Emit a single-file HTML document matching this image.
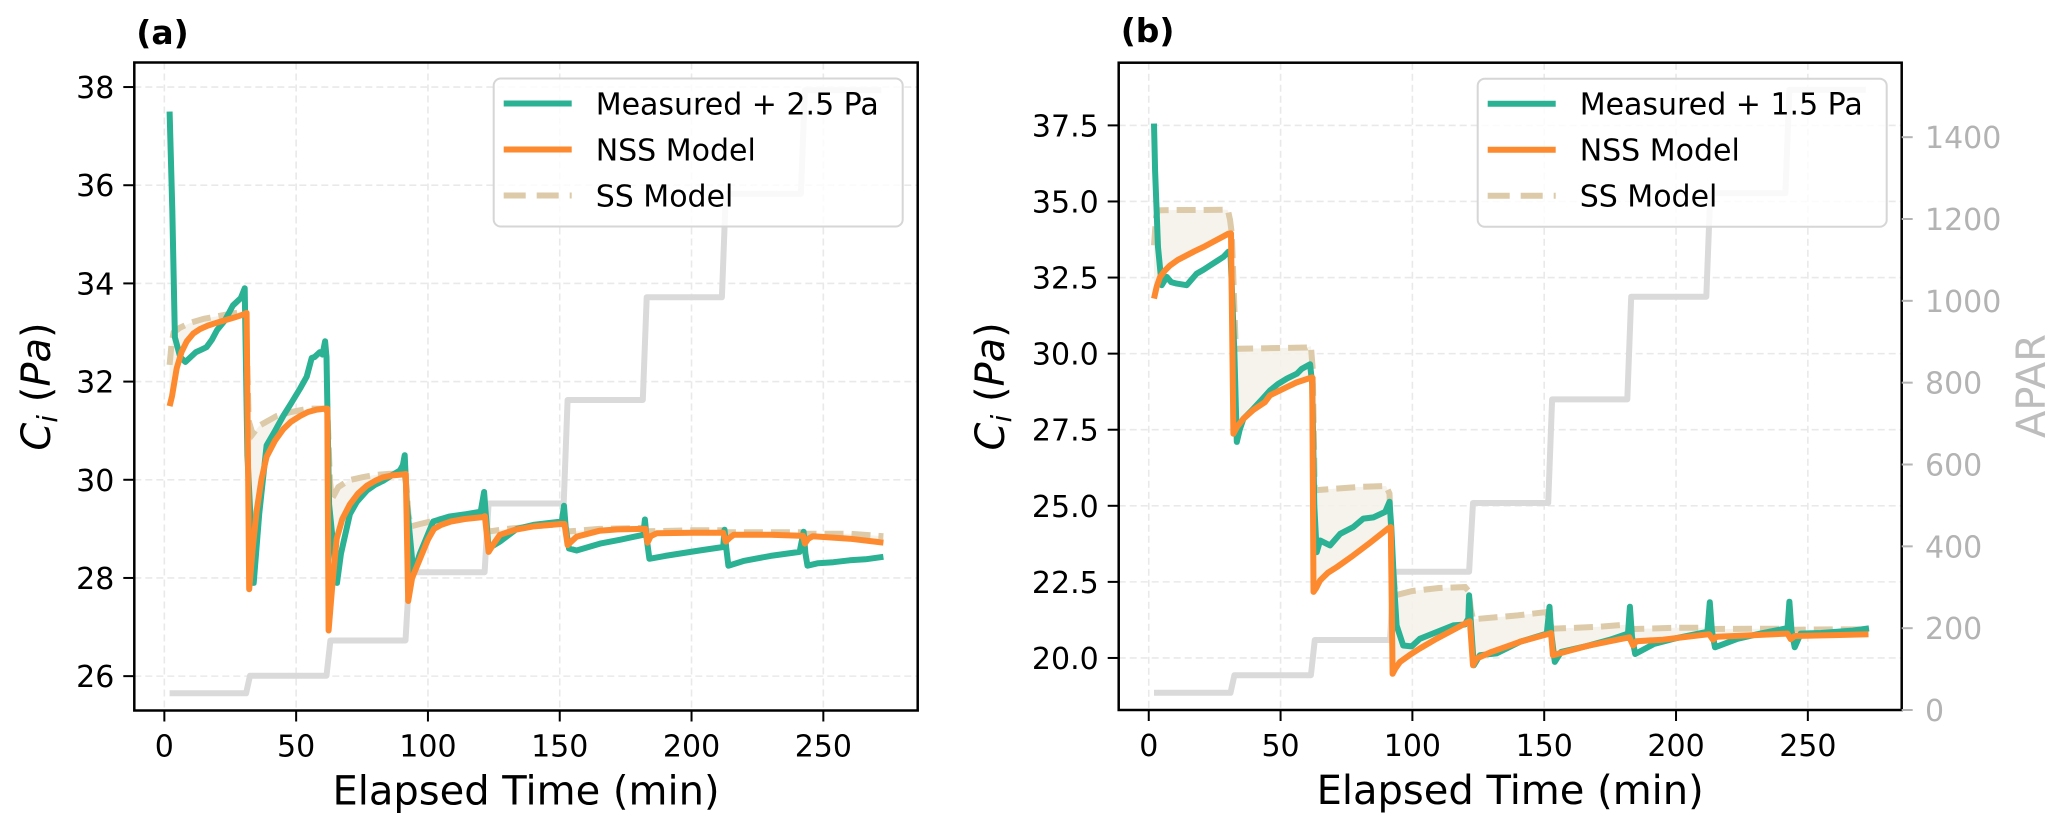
<!DOCTYPE html>
<html>
<head>
<meta charset="utf-8">
<style>
  html, body { margin: 0; padding: 0; background: #ffffff; }
  svg { display: block; }
  text { font-family: "DejaVu Sans", "Liberation Sans", sans-serif; }
</style>
</head>
<body>
<svg id="fig" width="2067" height="833" viewBox="0 0 2067 833" xmlns="http://www.w3.org/2000/svg">
  <rect x="0" y="0" width="2067" height="833" fill="#ffffff"/>
  <g id="panelA"></g>
  <g id="panelB"></g>
</svg>
<script>
// ---------- shared data ----------
const xTicks = [0, 50, 100, 150, 200, 250];
const aparT = [2, 31, 32.5, 61.5, 63, 91.5, 93, 121.5, 123, 151.5, 153, 181.5, 183, 211.5, 213, 241.5, 243, 272];
const aparV = [42, 42, 85, 85, 171, 171, 338, 338, 506, 506, 759, 759, 1010, 1010, 1263, 1263, 1516, 1516];
const aparTicks = [0, 200, 400, 600, 800, 1000, 1200, 1400];

// ---------- panel (a) data ----------
const aYTicks = [26, 28, 30, 32, 34, 36, 38];
const aMeasT = [2,3,4,6,8,10,12,14,16,18,20,23,26,29,30.5,31.5,33.9,36,38.8,42,45.1,48,51.5,54,55.9,57,59,60,61,61.5,62.5,65.5,67,70.4,73,76.8,80,83,86,89.4,90.5,91.2,92,94.5,97,102,108,114.7,120,121.3,121.8,123,127.3,133.7,140,146,150.8,151.6,152.3,153.5,156.4,165.3,173,181.7,182.3,183,184,190,203,212,212.5,213.2,214,220,230,241,242.5,243.2,244,248,253.8,260,266,272.8];
const aMeasV = [37.5,35.5,32.9,32.5,32.4,32.5,32.6,32.65,32.7,32.85,33.05,33.25,33.55,33.7,33.9,30.5,27.9,29.3,30.7,31.0,31.3,31.55,31.86,32.1,32.48,32.5,32.6,32.55,32.82,32.5,29.5,27.9,28.5,29.3,29.55,29.78,29.9,29.98,30.08,30.19,30.3,30.5,29.5,28.1,28.5,29.15,29.25,29.3,29.35,29.75,29.4,28.6,28.74,29.0,29.08,29.12,29.15,29.47,29.0,28.6,28.56,28.7,28.78,28.88,29.19,28.8,28.39,28.45,28.56,28.63,28.98,28.6,28.25,28.35,28.45,28.53,28.94,28.5,28.25,28.3,28.32,28.36,28.38,28.43];
const aNssT = [2,2.9,4.7,6.5,8.5,11,13.5,16.5,19.9,23,26.2,28.5,30.6,31.2,32.2,33.5,35,36.8,38.8,42,45.1,48,51.5,54.5,57.8,61,61.8,62.3,63.8,65.4,67.5,70.4,73.5,76.8,80,83,86.5,90.7,91.6,92.5,94,97.5,100,102.3,105,108.7,114,120.7,121.6,123,125,127.3,133,140,150.4,151.8,153,156.4,165,172,181.7,182.5,183.3,184.5,186.8,200,210.8,212,213,214.5,216,230,241,242.3,243,244.3,246,260,272.8];
const aNssV = [31.5,31.7,32.27,32.6,32.82,32.98,33.07,33.14,33.2,33.25,33.3,33.34,33.38,33.4,27.77,28.6,29.36,30.0,30.47,30.8,31.03,31.18,31.3,31.38,31.43,31.45,31.45,26.93,27.9,28.8,29.2,29.5,29.72,29.88,29.98,30.05,30.09,30.11,30.12,27.53,28.0,28.46,28.78,29.0,29.08,29.15,29.2,29.24,29.26,28.53,28.7,28.88,28.98,29.05,29.1,29.1,28.67,28.84,28.96,28.99,29.0,29.0,28.72,28.85,28.91,28.92,28.92,28.92,28.74,28.82,28.88,28.88,28.86,28.86,28.7,28.8,28.85,28.8,28.72];
const aSsT = [2,2.8,3.5,6,10,15,20,25,30.5,31,32,33.5,36,42.6,48,55,61.5,62,62.8,63.5,66,70,75,80,85,91,91.8,92.6,93.5,97,105,112,120.7,121.6,122.5,123.5,130,140,151,152,153,154,165,181.5,182.5,183.5,200,211.5,212.5,213.5,230,241.5,242.5,243.5,260,272.8];
const aSsV = [32.34,32.8,33.0,33.1,33.2,33.28,33.33,33.38,33.42,33.3,31.2,30.93,31.1,31.3,31.38,31.45,31.45,31.2,30.0,29.6,29.85,29.99,30.05,30.1,30.12,30.13,29.9,29.3,29.05,29.1,29.2,29.25,29.28,29.25,29.0,28.95,29.0,29.05,29.1,29.05,28.95,28.95,29.0,29.02,28.95,28.95,28.97,28.97,28.95,28.93,28.93,28.93,28.9,28.9,28.9,28.85];

// ---------- panel (b) data ----------
const bYTicks = [20.0, 22.5, 25.0, 27.5, 30.0, 32.5, 35.0, 37.5];
const bMeasT = [2,2.4,3.5,4.9,6.8,8.5,10.6,14.4,18.2,20.7,23.3,26,28.3,30.2,31,32.5,33.4,34.5,35.9,39.7,43,46,49,52.4,56.2,58,61.2,62,62.8,63.7,65,68.8,72.6,77.6,81.4,85.2,89.7,91.3,92,93,94,96.5,99.7,102.8,109.1,115.5,119.9,121.2,121.5,122.3,123.3,125.6,131.9,140.8,151,152,152.7,154,156.4,166.5,175,181.8,182.5,183.3,184.5,191.6,200,211.9,212.8,213.6,214.8,223.3,232,242.3,243,243.8,245,247.3,255,261.2,267,273.2];
const bMeasV = [37.56,36.0,33.5,32.25,32.52,32.35,32.3,32.25,32.63,32.75,32.9,33.05,33.18,33.35,33.3,30.0,27.1,27.5,27.86,28.19,28.5,28.79,29.0,29.18,29.34,29.5,29.65,29.0,25.0,23.48,23.86,23.7,24.08,24.3,24.58,24.62,24.8,25.13,24.3,22.5,21.07,20.41,20.38,20.63,20.85,21.07,21.1,21.3,22.06,21.0,19.76,20.09,20.15,20.53,20.8,21.68,20.8,19.87,20.2,20.4,20.6,20.8,21.68,20.7,20.13,20.46,20.65,20.86,21.83,20.9,20.35,20.63,20.8,20.98,21.85,20.9,20.35,20.8,20.82,20.86,20.9,20.97];
const bNssT = [2,3,4.3,6,8.1,11,14.4,17.5,20.7,25,30.2,31.2,32.1,33.5,35.9,39.7,44,46,52.4,56,61.2,62,62.5,63.5,65,68,71.4,77.6,84,91,91.8,92.5,93.5,95.3,99,102.8,109.1,115,121.1,121.8,123,124.3,130,140.8,152,152.6,153.3,160,166.5,175,182.3,183.7,185,195,212.6,214,215.5,230,242.3,243.5,245,260,273];
const bNssV = [31.81,32.2,32.52,32.72,32.9,33.08,33.23,33.37,33.5,33.7,33.94,33.95,27.37,27.6,27.86,28.15,28.4,28.63,28.9,29.05,29.2,29.22,22.17,22.3,22.55,22.8,22.99,23.37,23.79,24.27,24.3,19.48,19.65,19.87,20.1,20.31,20.63,20.9,21.18,21.2,19.76,19.98,20.2,20.53,20.8,20.82,20.09,20.25,20.4,20.55,20.68,20.41,20.55,20.6,20.78,20.6,20.7,20.75,20.8,20.62,20.72,20.75,20.78];
const bSsT = [2,2.8,3.5,10,20,30,30.8,31.5,33,45,60,61.5,62.2,63,70,80,90,91.3,92.2,93.5,100,110,120,121.3,122.2,123,140,151,152,153,170,182,183,184,200,212.5,213.5,214.5,230,242.5,243.5,244.5,260,272.8];
const bSsV = [33.56,34.5,34.71,34.72,34.72,34.73,34.4,33.95,30.16,30.18,30.2,30.25,29.5,25.51,25.56,25.62,25.65,25.4,23.5,22.06,22.2,22.3,22.33,22.2,21.6,21.27,21.4,21.51,21.2,20.96,21.02,21.1,20.95,20.95,20.99,20.99,20.95,20.95,20.96,20.96,20.93,20.93,20.94,20.94];

// ---------- rendering ----------
const NS = 'http://www.w3.org/2000/svg';
const C_GREEN = '#2bb193', C_ORANGE = '#fe8a2f', C_SS = '#dccaa9', C_FILL = '#f5f1e9', C_APAR = '#dadada';
const LW = 6;

function mk(parent, tag, attrs, text) {
  const el = document.createElementNS(NS, tag);
  for (const k in attrs) el.setAttribute(k, attrs[k]);
  if (text !== undefined) el.textContent = text;
  parent.appendChild(el);
  return el;
}
function pathFrom(ts, vs, sx, sy) {
  return ts.map((t, i) => (i ? 'L' : 'M') + sx(t).toFixed(1) + ',' + sy(vs[i]).toFixed(1)).join(' ');
}

function drawPanel(g, cfg) {
  const L = cfg.left, R = cfg.right, T = cfg.top, B = cfg.bottom;
  const sx = t => L + (t - cfg.xmin) / (cfg.xmax - cfg.xmin) * (R - L);
  const sy = v => B - (v - cfg.ymin) / (cfg.ymax - cfg.ymin) * (B - T);
  const sa = p => B - p / cfg.aparMax * (B - T);

  const clipId = 'clip' + cfg.id;
  const defs = mk(g, 'defs', {});
  const cp = mk(defs, 'clipPath', { id: clipId });
  mk(cp, 'rect', { x: L, y: T, width: R - L, height: B - T });

  const grid = mk(g, 'g', { stroke: '#e9e9e9', 'stroke-width': 1.6, 'stroke-dasharray': '7,4' });
  
  
  xTicks.forEach(t => mk(grid, 'line', { x1: sx(t), x2: sx(t), y1: T, y2: B }));
  cfg.yTicks.forEach(v => mk(grid, 'line', { x1: L, x2: R, y1: sy(v), y2: sy(v) }));

  const plot = mk(g, 'g', { 'clip-path': 'url(#' + clipId + ')' });

  const apar = mk(plot, 'path', { d: pathFrom(aparT, aparV, sx, sa), fill: 'none', stroke: C_APAR, 'stroke-width': 6, 'stroke-linejoin': 'round' });
  
  

  const fillD = pathFrom(cfg.ssT, cfg.ssV, sx, sy) + ' ' +
    cfg.nssT.slice().reverse().map((t, i) => 'L' + sx(t).toFixed(1) + ',' + sy(cfg.nssV[cfg.nssV.length - 1 - i]).toFixed(1)).join(' ') + ' Z';
  const fill = mk(plot, 'path', { d: fillD, fill: C_FILL, stroke: 'none', opacity: 0.85 });
  
  

  const ss = mk(plot, 'path', { d: pathFrom(cfg.ssT, cfg.ssV, sx, sy), fill: 'none', stroke: C_SS, 'stroke-width': LW, 'stroke-dasharray': '19,8' });
  
  

  const meas = mk(plot, 'path', { d: pathFrom(cfg.measT, cfg.measV, sx, sy), fill: 'none', stroke: C_GREEN, 'stroke-width': LW, 'stroke-linejoin': 'round' });
  
  

  const nss = mk(plot, 'path', { d: pathFrom(cfg.nssT, cfg.nssV, sx, sy), fill: 'none', stroke: C_ORANGE, 'stroke-width': LW, 'stroke-linejoin': 'round' });
  
  

  const spine = mk(g, 'rect', { x: L, y: T, width: R - L, height: B - T, fill: 'none', stroke: '#000', 'stroke-width': 2.5 });
  
  

  const xt = mk(g, 'g', {});
  
  
  xTicks.forEach(t => {
    mk(xt, 'line', { x1: sx(t), x2: sx(t), y1: B, y2: B + 11, stroke: '#000', 'stroke-width': 2 });
    mk(xt, 'text', { x: sx(t), y: B + 46, 'text-anchor': 'middle', 'font-size': 30, fill: '#000' }, String(t));
  });
  const yt = mk(g, 'g', {});
  
  
  cfg.yTicks.forEach(v => {
    mk(yt, 'line', { x1: L - 11, x2: L, y1: sy(v), y2: sy(v), stroke: '#000', 'stroke-width': 2 });
    mk(yt, 'text', { x: L - 20, y: sy(v) + 11, 'text-anchor': 'end', 'font-size': 30, fill: '#000' }, cfg.fmt(v));
  });

  const xl = mk(g, 'text', { x: (L + R) / 2, y: B + 94, 'text-anchor': 'middle', 'font-size': 40, fill: '#000' }, 'Elapsed Time (min)');
  
  

  const cy = (T + B) / 2;
  const yl = mk(g, 'text', { x: 0, y: 0, 'text-anchor': 'middle', 'font-size': 40, fill: '#000', transform: 'translate(' + cfg.ylabelX + ',' + cy + ') rotate(-90)' });
  
  
  mk(yl, 'tspan', { 'font-style': 'italic' }, 'C');
  mk(yl, 'tspan', { 'font-style': 'italic', 'font-size': 28, dy: 7 }, 'i');
  mk(yl, 'tspan', { dy: -7 }, ' (');
  mk(yl, 'tspan', { 'font-style': 'italic' }, 'Pa');
  mk(yl, 'tspan', {}, ')');

  const pl = mk(g, 'text', { x: L + 2, y: cfg.letterY, 'font-size': 33, 'font-weight': 'bold', fill: '#000' }, cfg.letter);
  
  

  const lg = mk(g, 'g', {});
  
  
  const lx = R - 15 - 409, ly = T + 16;
  mk(lg, 'rect', { x: lx, y: ly, width: 409, height: 148, rx: 7, fill: '#ffffff', 'fill-opacity': 0.82, stroke: '#d6d6d6', 'stroke-width': 2 });
  const entries = [
    [cfg.measLabel, C_GREEN, null],
    ['NSS Model', C_ORANGE, null],
    ['SS Model', C_SS, '22,11']
  ];
  entries.forEach((e, i) => {
    const yy = ly + 25 + i * 46;
    const ent = mk(lg, 'g', {});
    
    
    const a = { x1: lx + 10, x2: lx + 78, y1: yy, y2: yy, stroke: e[1], 'stroke-width': LW };
    if (e[2]) a['stroke-dasharray'] = e[2];
    mk(ent, 'line', a);
    mk(ent, 'text', { x: lx + 102, y: yy + 11, 'font-size': 30, fill: '#000' }, e[0]);
  });

  return { sx, sy, sa };
}

const pa = drawPanel(document.getElementById('panelA'), {
  id: 'A', left: 134.3, right: 917.7, top: 62.5, bottom: 710.5,
  xmin: -11.4, xmax: 285.8, ymin: 25.30, ymax: 38.50, aparMax: 1584,
  yTicks: aYTicks, fmt: v => String(v),
  measT: aMeasT, measV: aMeasV, nssT: aNssT, nssV: aNssV, ssT: aSsT, ssV: aSsV,
  measLabel: 'Measured + 2.5 Pa', letter: '(a)', letterY: 44, ylabelX: 50
});

const gB = document.getElementById('panelB');
const pb = drawPanel(gB, {
  id: 'B', left: 1118.7, right: 1901.7, top: 62.7, bottom: 710,
  xmin: -11.4, xmax: 285.6, ymin: 18.29, ymax: 39.56, aparMax: 1582,
  yTicks: bYTicks, fmt: v => v.toFixed(1),
  measT: bMeasT, measV: bMeasV, nssT: bNssT, nssV: bNssV, ssT: bSsT, ssV: bSsV,
  measLabel: 'Measured + 1.5 Pa', letter: '(b)', letterY: 42, ylabelX: 1004
});

const ra = document.createElementNS(NS, 'g');


gB.appendChild(ra);
aparTicks.forEach(p => {
  mk(ra, 'line', { x1: 1901.7, x2: 1912.7, y1: pb.sa(p), y2: pb.sa(p), stroke: '#b5b5b5', 'stroke-width': 2 });
  mk(ra, 'text', { x: 1925, y: pb.sa(p) + 11, 'font-size': 30, fill: '#b3b3b3' }, String(p));
});
const at = mk(gB, 'text', { x: 0, y: 0, 'text-anchor': 'middle', 'font-size': 40, fill: '#bdbdbd', transform: 'translate(2045,386) rotate(-90)' }, 'APAR');


</script>
</body>
</html>
